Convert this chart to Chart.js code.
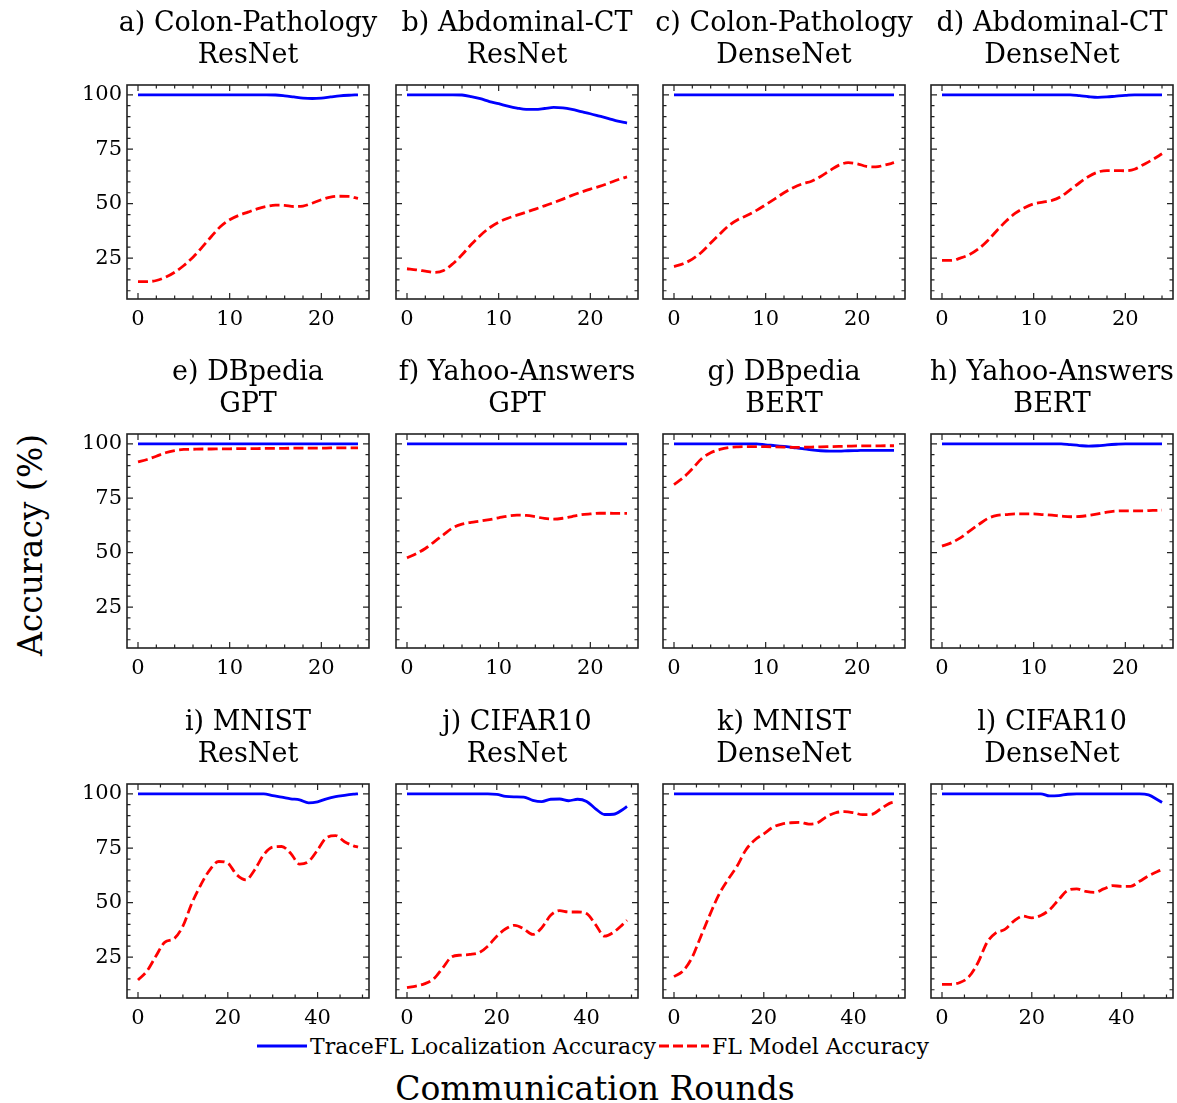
<!DOCTYPE html>
<html>
<head>
<meta charset="utf-8">
<script src="https://cdn.jsdelivr.net/npm/chart.js@4.4.1/dist/chart.umd.min.js"></script>
<style>
    body { margin: 0; background: #fff; width: 1177px; height: 1103px; overflow: hidden; position: relative; font-family: "DejaVu Serif", serif; color: #000; }
    canvas.panel { position: absolute; }
    #ylab { position: absolute; left: 30px; top: 545px; transform: translate(-50%, -50%) rotate(-90deg); font-size: 33px; white-space: nowrap; }
    #xlab { position: absolute; left: 595px; top: 1088px; transform: translate(-50%, -50%); font-size: 33px; white-space: nowrap; }
    #legend { position: absolute; left: 257px; top: 1046px; transform: translateY(-50%); display: flex; align-items: center; font-size: 22px; white-space: nowrap; }
    .sw { display: inline-block; width: 50px; height: 3px; margin-right: 3px; }
    .sw.blue { background: #0000ff; }
    .sw.red { background: repeating-linear-gradient(to right, #ff0000 0 10px, transparent 10px 14px); margin-left: 3px; }
</style>
</head>
<body>
<div id="ylab">Accuracy (%)</div>
<div id="xlab">Communication Rounds</div>
<div id="legend"><span class="sw blue"></span><span>TraceFL Localization Accuracy</span><span class="sw red"></span><span>FL Model Accuracy</span></div>

<script>
// x values (communication rounds)
const rounds25 = [0, 1, 2, 3, 4, 5, 6, 7, 8, 9, 10, 11, 12, 13, 14, 15, 16, 17, 18, 19, 20, 21, 22, 23, 24];
const rounds50 = [0, 2, 4, 6, 8, 10, 12, 14, 16, 18, 20, 22, 24, 26, 28, 30, 32, 34, 36, 38, 40, 42, 44, 46, 48, 49];

// tick labels
const yTicks = [25, 50, 75, 100];
const xTicks25 = [0, 10, 20];
const xTicks50 = [0, 20, 40];

const titles = [
    ["a) Colon-Pathology", "ResNet"], ["b) Abdominal-CT", "ResNet"], ["c) Colon-Pathology", "DenseNet"], ["d) Abdominal-CT", "DenseNet"],
    ["e) DBpedia", "GPT"], ["f) Yahoo-Answers", "GPT"], ["g) DBpedia", "BERT"], ["h) Yahoo-Answers", "BERT"],
    ["i) MNIST", "ResNet"], ["j) CIFAR10", "ResNet"], ["k) MNIST", "DenseNet"], ["l) CIFAR10", "DenseNet"]
];

// TraceFL localization accuracy (blue) / FL model accuracy (red)
const blueA = [100, 100, 100, 100, 100, 100, 100, 100, 100, 100, 100, 100, 100, 100, 100, 99.9, 99.5, 99, 98.5, 98.3, 98.5, 99, 99.5, 99.8, 100];
const redA = [14.2, 14.2, 14.7, 16.2, 18.5, 21.6, 25.4, 30, 34.9, 39.5, 42.6, 44.6, 46.1, 47.6, 48.7, 49.3, 49.2, 48.7, 48.9, 50.2, 51.8, 53, 53.4, 53.3, 52.4];

const blueB = [100, 100, 100, 100, 100, 100, 99.9, 99.2, 98.2, 96.9, 95.9, 94.8, 93.9, 93.3, 93.3, 93.7, 94.2, 94, 93.3, 92.3, 91.3, 90.2, 89.1, 87.9, 87];
const redB = [20.1, 19.6, 19, 18.4, 19.3, 22.4, 26.5, 31.2, 35.4, 38.9, 41.5, 43.3, 44.7, 46.1, 47.5, 49, 50.5, 52.1, 53.8, 55.3, 56.7, 57.9, 59.4, 61, 62.3];

const blueC = [100, 100, 100, 100, 100, 100, 100, 100, 100, 100, 100, 100, 100, 100, 100, 100, 100, 100, 100, 100, 100, 100, 100, 100, 100];
const redC = [21.1, 22.4, 24.5, 27.7, 31.9, 36.1, 40, 42.7, 44.7, 46.9, 49.5, 52.2, 55, 57.3, 59.1, 60.3, 62.5, 65.2, 67.7, 68.8, 68.3, 67.1, 66.9, 67.7, 68.8];

const blueD = [100, 100, 100, 100, 100, 100, 100, 100, 100, 100, 100, 100, 100, 100, 100, 99.6, 99.1, 98.8, 99, 99.4, 99.7, 100, 100, 100, 100];
const redD = [23.9, 23.9, 25, 26.6, 29.3, 33.1, 37.7, 42, 45.6, 48.1, 49.9, 50.7, 51.5, 53.3, 56.4, 59.6, 62.5, 64.5, 65.2, 65.2, 65.1, 65.8, 68, 70.3, 72.9];

const blueE = [100, 100, 100, 100, 100, 100, 100, 100, 100, 100, 100, 100, 100, 100, 100, 100, 100, 100, 100, 100, 100, 100, 100, 100, 100];
const redE = [91.7, 92.8, 94.3, 95.9, 96.9, 97.4, 97.5, 97.6, 97.6, 97.7, 97.7, 97.8, 97.8, 97.8, 97.9, 97.9, 97.9, 98, 98, 98, 98, 98.1, 98.1, 98.1, 98.1];

const blueF = [100, 100, 100, 100, 100, 100, 100, 100, 100, 100, 100, 100, 100, 100, 100, 100, 100, 100, 100, 100, 100, 100, 100, 100, 100];
const redF = [47.6, 49.5, 51.9, 55.1, 58.3, 61.4, 63.1, 63.9, 64.5, 65.2, 66, 66.8, 67.2, 67.1, 66.5, 65.7, 65.4, 65.8, 66.6, 67.4, 67.8, 68.1, 68.1, 68, 68];

const blueG = [100, 100, 100, 100, 100, 100, 100, 100, 100, 100, 99.5, 99.2, 98.8, 98.3, 97.8, 97.2, 96.8, 96.6, 96.6, 96.8, 96.9, 97, 97, 97, 97];
const redG = [81.3, 84.4, 88.5, 93.1, 95.9, 97.4, 98.3, 98.6, 98.7, 98.7, 98.7, 98.6, 98.5, 98.4, 98.4, 98.5, 98.6, 98.7, 98.8, 98.9, 99, 99, 99, 99.1, 99.1];

const blueH = [100, 100, 100, 100, 100, 100, 100, 100, 100, 100, 100, 100, 100, 100, 99.6, 99.2, 98.9, 99.1, 99.5, 99.8, 100, 100, 100, 100, 100];
const redH = [53, 54.5, 56.8, 59.9, 62.9, 65.7, 67.1, 67.5, 67.8, 67.8, 67.8, 67.5, 67.2, 66.8, 66.5, 66.6, 67.1, 67.8, 68.6, 69.1, 69.2, 69.2, 69.2, 69.4, 69.5];

const blueI = [100, 100, 100, 100, 100, 100, 100, 100, 100, 100, 100, 100, 100, 100, 100, 99.2, 98.5, 97.7, 97.2, 95.8, 96.3, 97.7, 98.7, 99.3, 99.8, 100];
const redI = [14.5, 18.6, 25.5, 31.9, 33.4, 39.2, 49.8, 58.2, 65.1, 68.9, 68.1, 62.8, 60.5, 65.1, 72, 75.5, 75.8, 72.7, 67.7, 68.9, 74.2, 79.9, 80.8, 78, 76.1, 75.5];

const blueJ = [100, 100, 100, 100, 100, 100, 100, 100, 100, 100, 99.7, 98.8, 98.6, 98.5, 97, 96.4, 97.5, 97.6, 96.8, 97.5, 96.5, 93.1, 90.5, 90.6, 92.7, 94.2];
const redJ = [11, 11.7, 12.8, 15.1, 20.1, 25.2, 25.9, 26.2, 27, 30, 34.6, 38, 39.6, 38, 35.4, 38.4, 44.2, 46.3, 45.7, 45.7, 45, 39.9, 34.6, 36.4, 39.9, 41.9];

const blueK = [100, 100, 100, 100, 100, 100, 100, 100, 100, 100, 100, 100, 100, 100, 100, 100, 100, 100, 100, 100, 100, 100, 100, 100, 100, 100];
const redK = [16, 18.6, 24.7, 34.6, 44.5, 53.7, 60.5, 66.6, 74.2, 78.8, 81.6, 84.6, 86.1, 86.7, 86.9, 86.1, 86.7, 89.5, 91.3, 91.8, 91.3, 90.4, 90.5, 93, 95.6, 96.2];

const blueL = [100, 100, 100, 100, 100, 100, 100, 100, 100, 100, 100, 100, 99, 99.2, 99.8, 100, 100, 100, 100, 100, 100, 100, 100, 99.5, 97.3, 96];
const redL = [12.5, 12.5, 13.3, 16, 22.4, 31.6, 36.1, 37.7, 41.5, 43.8, 43, 44.1, 46.8, 51.4, 55.6, 56.3, 55.2, 54.7, 56.3, 57.8, 57.5, 57.5, 59.8, 62.3, 64.3, 65.1];

const blueSeries = [blueA, blueB, blueC, blueD, blueE, blueF, blueG, blueH, blueI, blueJ, blueK, blueL];
const redSeries = [redA, redB, redC, redD, redE, redF, redG, redH, redI, redJ, redK, redL];

// layout of the plot boxes
const colLeft = [127, 396, 663, 931];
const rowTop = [85, 434, 784];
const PLOT_W = 242, PLOT_H = 214;
const Y_AXIS_W = 55, TITLE_H = 77, X_AXIS_H = 35;
const FONT = "'DejaVu Serif', serif";

// frame with inward ticks on all four sides
const frameTicks = {
    id: "frameTicks",
    afterDatasetsDraw(chart, args, opts) {
        const { ctx, chartArea: a, scales: { x, y } } = chart;
        ctx.save();
        ctx.strokeStyle = "#222";
        ctx.lineWidth = 1.2;
        ctx.beginPath();
        const xTick = (v, len) => {
            const px = x.getPixelForValue(v);
            ctx.moveTo(px, a.bottom); ctx.lineTo(px, a.bottom - len);
            ctx.moveTo(px, a.top); ctx.lineTo(px, a.top + len);
        };
        const yTick = (v, len) => {
            const py = y.getPixelForValue(v);
            ctx.moveTo(a.left, py); ctx.lineTo(a.left + len, py);
            ctx.moveTo(a.right, py); ctx.lineTo(a.right - len, py);
        };
        for (let v = 0; v <= opts.xEnd; v += opts.xMinor) xTick(v, 3.5);
        opts.xMajor.forEach(v => xTick(v, 6));
        for (let v = 10; v <= 100; v += 5) yTick(v, 3.5);
        yTicks.forEach(v => yTick(v, 6));
        ctx.stroke();
        ctx.lineWidth = 1.6;
        ctx.strokeRect(a.left, a.top, a.width, a.height);
        ctx.restore();
    }
};

titles.forEach((title, i) => {
    const row = Math.floor(i / 4), col = i % 4;
    const long = row === 2;
    const rounds = long ? rounds50 : rounds25;
    const xMajor = long ? xTicks50 : xTicks25;

    const canvas = document.createElement("canvas");
    canvas.className = "panel";
    const w = Y_AXIS_W * 2 + PLOT_W, h = TITLE_H + PLOT_H + X_AXIS_H;
    canvas.width = w; canvas.height = h;
    canvas.style.left = (colLeft[col] - Y_AXIS_W) + "px";
    canvas.style.top = (rowTop[row] - TITLE_H) + "px";
    canvas.style.width = w + "px"; canvas.style.height = h + "px";
    document.body.appendChild(canvas);

    const toPoints = vals => vals.map((v, k) => ({ x: rounds[k], y: v }));

    new Chart(canvas, {
        type: "line",
        data: {
            datasets: [
                { label: "TraceFL Localization Accuracy", data: toPoints(blueSeries[i]), borderColor: "#0000ff", borderWidth: 2.8, order: 1 },
                { label: "FL Model Accuracy", data: toPoints(redSeries[i]), borderColor: "#ff0000", borderWidth: 2.8, borderDash: [10, 4.3], order: 0 }
            ]
        },
        options: {
            responsive: false,
            animation: false,
            events: [],
            elements: { point: { radius: 0 }, line: { cubicInterpolationMode: "monotone" } },
            layout: { padding: 0 },
            plugins: {
                legend: { display: false },
                tooltip: { enabled: false },
                title: {
                    display: true, text: title, color: "#000",
                    font: { family: FONT, size: 27, weight: "normal", lineHeight: "32px" },
                    padding: { top: 0, bottom: 13 }
                },
                frameTicks: { xMajor, xMinor: long ? 5 : 2, xEnd: long ? 50 : 24 }
            },
            scales: {
                x: {
                    type: "linear",
                    min: long ? -2.45 : -1.2,
                    max: long ? 51.45 : 25.2,
                    afterBuildTicks: s => { s.ticks = xMajor.map(v => ({ value: v })); },
                    afterFit: s => { s.height = X_AXIS_H; },
                    grid: { display: false, drawTicks: false },
                    border: { display: false },
                    ticks: { color: "#000", font: { family: FONT, size: 21 }, padding: 8, maxRotation: 0 }
                },
                y: {
                    type: "linear",
                    min: 6.2,
                    max: 104.5,
                    afterBuildTicks: s => { s.ticks = yTicks.map(v => ({ value: v })); },
                    afterFit: s => { s.width = Y_AXIS_W; },
                    grid: { display: false, drawTicks: false },
                    border: { display: false },
                    ticks: { display: col === 0, color: "#000", font: { family: FONT, size: 21 }, padding: 5 }
                },
                // empty right-hand spacer so the title centres over the plot box
                yRight: {
                    type: "linear",
                    position: "right",
                    min: 6.2,
                    max: 104.5,
                    afterFit: s => { s.width = Y_AXIS_W; },
                    grid: { display: false, drawTicks: false },
                    border: { display: false },
                    ticks: { display: false }
                }
            }
        },
        plugins: [frameTicks]
    });
});
</script>
</body>
</html>
